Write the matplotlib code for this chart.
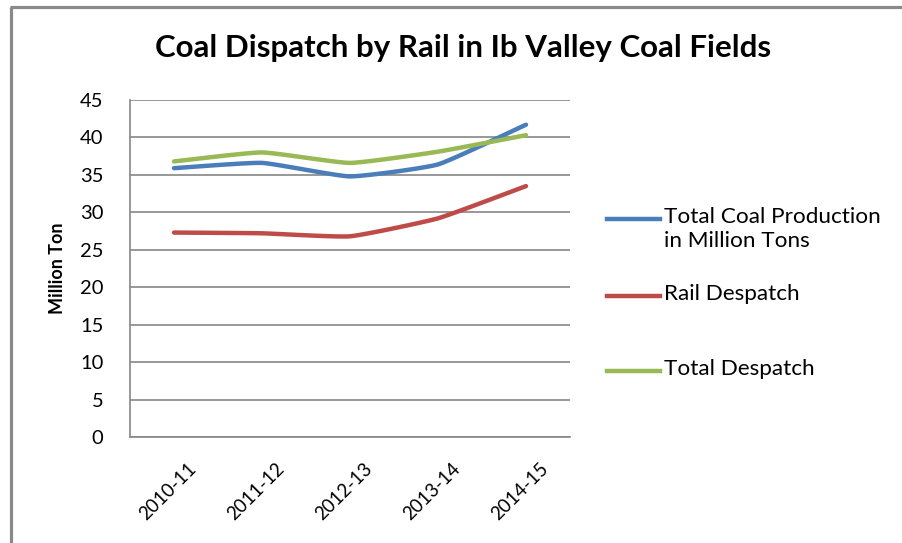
import numpy as np
import matplotlib
matplotlib.use("Agg")
import matplotlib.pyplot as plt
import matplotlib.transforms as mtransforms
from matplotlib.lines import Line2D

years = ["2010-11", "2011-12", "2012-13", "2013-14", "2014-15"]
total_production = [35.9, 36.6, 34.8, 36.4, 41.7]
rail_despatch = [27.3, 27.2, 26.8, 29.2, 33.5]
total_despatch = [36.8, 38.0, 36.6, 38.1, 40.3]

series = [
    ("Total Coal Production\nin Million Tons", total_production, "#4a7ebb"),
    ("Rail Despatch", rail_despatch, "#be4b48"),
    ("Total Despatch", total_despatch, "#98b954"),
]

plt.rcParams['font.family'] = ['Lato', 'DejaVu Sans']


def smooth(xs, ys, n=30, k=14.0):
    xs = np.asarray(xs, float)
    ys = np.asarray(ys, float)
    px = np.concatenate([[2 * xs[0] - xs[1]], xs, [2 * xs[-1] - xs[-2]]])
    py = np.concatenate([[2 * ys[0] - ys[1]], ys, [2 * ys[-1] - ys[-2]]])
    ox, oy = [], []
    t = np.linspace(0, 1, n)
    for i in range(1, len(px) - 2):
        p0, p1, p2, p3 = [np.array([px[j], py[j]]) for j in (i - 1, i, i + 1, i + 2)]
        c1 = p1 + (p2 - p0) / k
        c2 = p2 - (p3 - p1) / k
        b = ((1 - t) ** 3)[:, None] * p1 + (3 * (1 - t) ** 2 * t)[:, None] * c1 \
            + (3 * (1 - t) * t ** 2)[:, None] * c2 + (t ** 3)[:, None] * p2
        ox.extend(b[:, 0]); oy.extend(b[:, 1])
    return np.array(ox), np.array(oy)


W, H = 903, 543
fig = plt.figure(figsize=(W / 100, H / 100), dpi=100)
fig.patch.set_facecolor("white")
border = "#898989"
fig.add_artist(Line2D([11.5 / W, 11.5 / W], [0, 1 - 7 / H], transform=fig.transFigure,
                      color=border, linewidth=2.3, solid_capstyle="butt"))
fig.add_artist(Line2D([10.5 / W, 1], [1 - 7 / H, 1 - 7 / H], transform=fig.transFigure,
                      color=border, linewidth=2.3, solid_capstyle="butt"))

ax = fig.add_axes([130 / W, 1 - 437 / H, 440 / W, 337 / H])
x = np.arange(len(years))
for label, vals, color in series:
    sx, sy = smooth(x, vals)
    ax.plot(sx, sy, color=color, linewidth=3.2, solid_capstyle="round",
            solid_joinstyle="round", zorder=3)

ax.set_xlim(-0.5, len(years) - 0.5)
ax.set_ylim(0, 45)
ax.set_yticks(np.arange(0, 46, 5))
ax.set_xticks(x)
ax.set_xticklabels([])
label_tr = ax.get_xaxis_transform() + mtransforms.ScaledTranslation(13 / 100, -23 / 100, fig.dpi_scale_trans)
for xi, yr in zip(x, years):
    ax.text(xi, 0, yr, transform=label_tr, rotation=45, ha="right", va="top",
            rotation_mode="anchor", fontsize=13.5)
ax.tick_params(axis="y", labelsize=14.5, length=0, pad=19)
ax.tick_params(axis="x", length=0)
ax.grid(axis="y", color="#868686", linewidth=1.2)
ax.set_axisbelow(True)
for s in ["top", "right"]:
    ax.spines[s].set_visible(False)
for s in ["left", "bottom"]:
    ax.spines[s].set_color("#868686")
    ax.spines[s].set_linewidth(1.2)
ax.set_ylabel("Million Ton", fontsize=13, fontweight="bold", labelpad=10)

fig.text(463 / W, 1 - 48 / H, "Coal Dispatch by Rail in Ib Valley Coal Fields",
         ha="center", va="center", fontsize=22.5, fontweight="bold")

legend_y = [219, 296, 371]
for (label, vals, color), yy in zip(series, legend_y):
    fig.add_artist(Line2D([607 / W, 660 / W], [1 - yy / H, 1 - yy / H], transform=fig.transFigure,
                          color=color, linewidth=3.2))
    fig.text(664 / W, 1 - (yy - 12) / H, label, ha="left", va="top", fontsize=16.2,
             linespacing=1.25)

fig.savefig("out.png", dpi=100)
